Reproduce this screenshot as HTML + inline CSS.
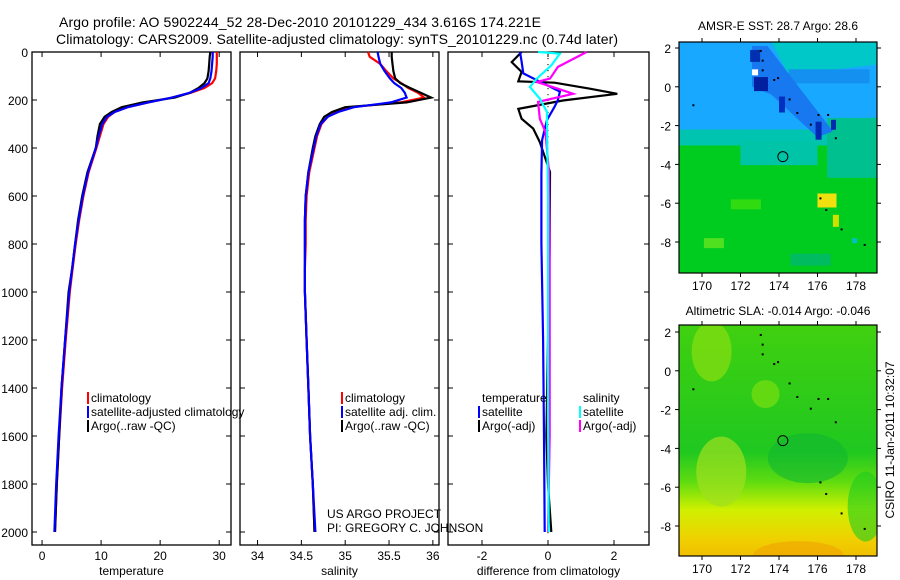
<!DOCTYPE html>
<html><head><meta charset="utf-8"><style>
html,body{margin:0;padding:0;background:#fff;}
svg{display:block;font-family:"Liberation Sans",sans-serif;}
</style></head><body>
<svg id="fig" width="900" height="580" viewBox="0 0 900 580">
<text x="59" y="27" font-size="14" textLength="482">Argo profile: AO 5902244_52 28-Dec-2010 20101229_434 3.616S 174.221E</text>
<text x="56" y="44" font-size="14" textLength="562">Climatology: CARS2009. Satellite-adjusted climatology: synTS_20101229.nc (0.74d later)</text>
<g id="maps"></g>
<g id="panels"></g>
<text x="327" y="518" font-size="12">US ARGO PROJECT</text>
<text x="327" y="532" font-size="12">PI: GREGORY C. JOHNSON</text>
<text transform="translate(894,440) rotate(-90)" font-size="12" text-anchor="middle">CSIRO 11-Jan-2011 10:32:07</text>
<text x="778" y="30" font-size="12" text-anchor="middle">AMSR-E SST: 28.7 Argo: 28.6</text>
<text x="778" y="315" font-size="12" text-anchor="middle">Altimetric SLA: -0.014 Argo: -0.046</text>
</svg>
<script>
// ---- profile data ----
const depths=[0,20,50,80,110,130,150,170,190,210,230,250,270,300,350,400,500,600,700,800,900,1000,1200,1400,1600,1800,2000];
const tempClim=[29.6,29.6,29.6,29.5,29.3,28.8,27.5,25.2,22.0,18.0,14.5,12.3,11.2,10.4,9.8,9.2,7.9,7.0,6.3,5.7,5.2,4.7,4.0,3.4,2.9,2.5,2.2];
const tempSat=[28.9,28.9,28.8,28.7,28.5,28.2,27.0,25.0,22.0,18.0,14.5,12.3,11.0,10.2,9.6,9.1,7.8,6.9,6.2,5.6,5.1,4.6,3.9,3.3,2.8,2.4,2.1];
const tempArgo=[28.5,28.4,28.3,28.2,28.0,27.5,26.5,25.0,22.5,17.0,13.5,11.8,10.6,9.8,9.4,9.1,7.7,6.8,6.1,5.6,5.1,4.5,3.9,3.3,2.9,2.5,2.2];
const salClim=[35.26,35.28,35.40,35.47,35.55,35.64,35.72,35.83,35.90,35.63,35.06,34.90,34.80,34.73,34.68,34.65,34.59,34.56,34.55,34.55,34.54,34.54,34.56,34.58,34.60,34.63,34.65];
const salSat=[35.37,35.38,35.40,35.45,35.51,35.56,35.64,35.68,35.70,35.52,35.10,34.92,34.80,34.72,34.67,34.64,34.58,34.55,34.54,34.54,34.54,34.54,34.56,34.58,34.60,34.63,34.66];
const salArgo=[35.53,35.53,35.54,35.55,35.57,35.63,35.74,35.86,35.98,35.70,35.00,34.85,34.76,34.71,34.66,34.63,34.58,34.55,34.54,34.54,34.54,34.54,34.56,34.58,34.60,34.63,34.65];
const dTempSatDepth=[0,40,89,120,144,165,200,228,283,367,505,800,1200,1600,2000];
const dTempSat=[-0.85,-0.8,-0.75,-0.3,0.06,0.36,0.3,0.2,-0.03,-0.18,-0.2,-0.2,-0.15,-0.12,-0.1];
const dTempArgoDepth=[0,42,83,122,128,153,174,202,237,278,319,375,500,800,1200,1600,1800,2000];
const dTempArgo=[-0.8,-1.1,-0.8,-0.9,0.2,1.27,2.1,0.45,-0.9,-0.8,-0.45,-0.25,0.06,0.05,0.0,-0.05,0.0,0.1];
const dSalSatDepth=[0,7,56,111,146,194,250,300,600,1000,1500,2000];
const dSalSat=[-0.3,0.36,0.1,-0.34,-0.55,-0.25,-0.03,-0.03,0.0,0.0,0.0,0.02];
const dSalArgoDepth=[0,62,111,125,153,174,208,278,333,500,800,1200,1600,2000];
const dSalArgo=[1.17,0.3,0.06,-0.34,0.3,0.76,-0.3,-0.25,-0.08,0.03,0.05,0.05,0.05,0.0];
const depthTicks=[0,200,400,600,800,1000,1200,1400,1600,1800,2000];
const tempTicks=[0,10,20,30];
const salTicks=[34,34.5,35,35.5,36];
const diffTicks=[-2,0,2];

const NS="http://www.w3.org/2000/svg";
function mk(tag,attrs,parent){const e=document.createElementNS(NS,tag);for(const k in attrs)e.setAttribute(k,attrs[k]);parent.appendChild(e);return e;}
const panelsG=document.getElementById('panels');
const yD=d=>52+d*0.24;
const topY=52,botY=545;
function panel(name,x0,x1,xv0,xv1,ticks,label,showY){
  const g=mk('g',{},panelsG);
  
  
  const xs=v=>x0+(v-xv0)/(xv1-xv0)*(x1-x0);
  const fr=mk('rect',{x:x0,y:topY,width:x1-x0,height:botY-topY,fill:'none',stroke:'#000','stroke-width':1.3},g);
  
  
  depthTicks.forEach(d=>{
    mk('line',{x1:x0,x2:x0+5,y1:yD(d),y2:yD(d),stroke:'#000'},g);
    mk('line',{x1:x1,x2:x1-5,y1:yD(d),y2:yD(d),stroke:'#000'},g);
    if(showY){const t=mk('text',{x:x0-4,y:yD(d)+5,'font-size':12,'text-anchor':'end'},g);t.textContent=d;
      
      }
  });
  ticks.forEach(v=>{
    mk('line',{x1:xs(v),x2:xs(v),y1:topY,y2:topY+5,stroke:'#000'},g);
    mk('line',{x1:xs(v),x2:xs(v),y1:botY,y2:botY-5,stroke:'#000'},g);
    const t=mk('text',{x:xs(v),y:560,'font-size':12,'text-anchor':'middle'},g);t.textContent=v;
    
    
  });
  const l=mk('text',{x:(x0+x1)/2,y:575,'font-size':12,'text-anchor':'middle'},g);l.textContent=label;
  
  
  return {g,xs};
}
function line(p,dd,vals,color,name){
  const pts=dd.map((d,i)=>p.xs(vals[i]).toFixed(1)+','+yD(d).toFixed(1)).join(' ');
  const e=mk('polyline',{points:pts,fill:'none',stroke:color,'stroke-width':2.2},p.g);
  
  
}
function legend(p,x,y,color,txt,name){
  mk('rect',{x:x-4,y:y-10,width:2,height:12,fill:color},p.g);
  const t=mk('text',{x:x,y:y,'font-size':12},p.g);t.textContent=txt;
  
  
}
const p1=panel('temperature',32,231,-1.7,32,tempTicks,'temperature',true);
line(p1,depths,tempClim,'#f00','temp-climatology-line');
line(p1,depths,tempArgo,'#000','temp-argo-line');
line(p1,depths,tempSat,'#00f','temp-satellite-line');
legend(p1,91,402,'#f00','climatology','legend-climatology');
legend(p1,91,416,'#00f','satellite-adjusted climatology','legend-satellite-adjusted');
legend(p1,91,430,'#000','Argo(..raw -QC)','legend-argo');
const p2=panel('salinity',240,439,33.8,36.07,salTicks,'salinity',false);
line(p2,depths,salClim,'#f00','sal-climatology-line');
line(p2,depths,salArgo,'#000','sal-argo-line');
line(p2,depths,salSat,'#00f','sal-satellite-line');
legend(p2,345,402,'#f00','climatology','legend-sal-climatology');
legend(p2,345,416,'#00f','satellite adj. clim.','legend-sal-satellite');
legend(p2,345,430,'#000','Argo(..raw -QC)','legend-sal-argo');
const p3=panel('difference',448,649,-3.03,3.06,diffTicks,'difference from climatology',false);
for(let d=0;d<=2000;d+=25){mk('rect',{x:p3.xs(0)-0.5,y:yD(d),width:1,height:1.2,fill:'#000'},p3.g);}
line(p3,dTempArgoDepth,dTempArgo,'#000','diff-temp-argo-line');
line(p3,dTempSatDepth,dTempSat,'#00f','diff-temp-satellite-line');
line(p3,dSalArgoDepth,dSalArgo,'#f0f','diff-sal-argo-line');
line(p3,dSalSatDepth,dSalSat,'#0ff','diff-sal-satellite-line');
const th=mk('text',{x:482,y:402,'font-size':12},p3.g);th.textContent='temperature';


const sh=mk('text',{x:583,y:402,'font-size':12},p3.g);sh.textContent='salinity';


legend(p3,482,416,'#00f','satellite','legend-diff-temp-satellite');
legend(p3,482,430,'#000','Argo(-adj)','legend-diff-temp-argo');
legend(p3,583,416,'#0ff','satellite','legend-diff-sal-satellite');
legend(p3,583,430,'#f0f','Argo(-adj)','legend-diff-sal-argo');

// ---- maps ----
const mapsG=document.getElementById('maps');
const lonTicks=[170,172,174,176,178];
const latTicks=[2,0,-2,-4,-6,-8];
function map(name,y0,lat2y,layers){
  const g=mk('g',{},mapsG);
  
  
  const X=l=>702+(l-170)*19.25, Y=l=>lat2y+(2-l)*19.4;
  const x0=679,x1=877,y1=y0+231;
  const cp=mk('clipPath',{id:name+'-clip'},g);mk('rect',{x:x0,y:y0,width:x1-x0,height:y1-y0},cp);
  const inner=mk('g',{'clip-path':'url(#'+name+'-clip)'},g);
  layers(inner,X,Y,x0,x1,y0,y1);
  [[173,1.9],[173.1,1.4],[173.1,0.9],[173.7,0.4],[173.9,0.5],[174.5,-0.6],[174.9,-1.3],[175.6,-1.9],[176,-1.4],[176.5,-1.4],[176.9,-2.6],[169.5,-0.9],[176.1,-5.7],[176.4,-6.3],[177.2,-7.3],[178.4,-8.1],[179.1,-8.7]].forEach(p=>mk('rect',{x:X(p[0]),y:Y(p[1]),width:2,height:2,fill:'#000'},inner));
  const c=mk('circle',{cx:X(174.2),cy:Y(-3.6),r:5,fill:'none',stroke:'#000'},g);
  
  
  mk('rect',{x:x0,y:y0,width:x1-x0,height:y1-y0,fill:'none',stroke:'#000','stroke-width':1.2},g);
  lonTicks.forEach(l=>{mk('line',{x1:X(l),x2:X(l),y1:y0,y2:y0-4,stroke:'#000'},g);
    mk('line',{x1:X(l),x2:X(l),y1:y1,y2:y1+4,stroke:'#000'},g);
    const t=mk('text',{x:X(l),y:y1+17,'font-size':12,'text-anchor':'middle'},g);t.textContent=l;
    
    });
  latTicks.forEach(l=>{mk('line',{x1:x0,x2:x0-4,y1:Y(l),y2:Y(l),stroke:'#000'},g);
    mk('line',{x1:x1,x2:x1+4,y1:Y(l),y2:Y(l),stroke:'#000'},g);
    const t=mk('text',{x:x0-8,y:Y(l)+5,'font-size':12,'text-anchor':'end'},g);t.textContent=l;
    
    });
}
map('sst-map',42,48,(g,X,Y,x0,x1,y0,y1)=>{
  mk('rect',{x:x0,y:y0,width:x1-x0,height:y1-y0,fill:'#00cc20'},g);
  mk('rect',{x:x0,y:y0,width:x1-x0,height:Y(-2.3)-y0,fill:'#18a8ff'},g);
  mk('rect',{x:x0,y:Y(-2.2),width:x1-x0,height:16,fill:'#00c4b0'},g);
  mk('rect',{x:X(172),y:Y(-2.8),width:X(176)-X(172),height:24,fill:'#00c4a8'},g);
  mk('rect',{x:X(176.5),y:Y(-1.6),width:x1-X(176.5),height:60,fill:'#00c090'},g);
  mk('polygon',{points:[X(173.6),Y(2.3),X(179.5),Y(2.3),X(179.5),Y(1.2),X(174.5),Y(0.6)].join(' '),fill:'#00c8c8'},g);
  mk('rect',{x:X(174.5),y:Y(0.9),width:X(178.7)-X(174.5),height:14,fill:'#1490f0'},g);
  mk('polygon',{points:[X(172.6),Y(2.1),X(173.4),Y(2.1),X(176.8),Y(-2.3),X(176.0),Y(-2.6),X(173.6),Y(-0.4),X(172.6),Y(0)].join(' '),fill:'#1878f0'},g);
  mk('rect',{x:X(172.7),y:Y(0.5),width:14,height:14,fill:'#0020a0'},g);
  mk('rect',{x:X(172.5),y:Y(1.9),width:10,height:12,fill:'#0030b0'},g);
  mk('rect',{x:X(172.6),y:Y(0.9),width:6,height:6,fill:'#fff'},g);
  mk('rect',{x:X(174),y:Y(-0.5),width:6,height:16,fill:'#0030c0'},g);
  mk('rect',{x:X(175.9),y:Y(-1.8),width:6,height:18,fill:'#0028b0'},g);
  mk('rect',{x:X(176.7),y:Y(-1.7),width:5,height:10,fill:'#0028b0'},g);
  mk('rect',{x:X(176),y:Y(-5.5),width:19,height:14,fill:'#f0e010'},g);
  mk('rect',{x:X(176.8),y:Y(-6.6),width:6,height:12,fill:'#d0e000'},g);
  mk('rect',{x:X(170.1),y:Y(-7.8),width:20,height:10,fill:'#50e020'},g);
  mk('rect',{x:X(171.5),y:Y(-5.8),width:30,height:10,fill:'#30dc10'},g);
  mk('rect',{x:X(177.8),y:Y(-7.8),width:5,height:5,fill:'#00c0c0'},g);
  mk('rect',{x:X(174.6),y:Y(-8.6),width:40,height:12,fill:'#00bb60'},g);
});
map('sla-map',325,332,(g,X,Y,x0,x1,y0,y1)=>{
  const gr=mk('linearGradient',{id:'slaG',x1:0,y1:0,x2:0,y2:1},g);
  [[0,'#40d010'],[0.55,'#20c820'],[0.68,'#60dc10'],[0.8,'#d0f000'],[0.93,'#f0d000'],[1,'#f0c000']].forEach(s=>mk('stop',{offset:s[0],'stop-color':s[1]},gr));
  mk('rect',{x:x0,y:y0,width:x1-x0,height:y1-y0,fill:'url(#slaG)'},g);
  mk('ellipse',{cx:X(171),cy:Y(-5.2),rx:25,ry:35,fill:'#a0e020',opacity:0.7},g);
  mk('ellipse',{cx:X(170.5),cy:Y(1),rx:20,ry:30,fill:'#80dc10',opacity:0.8},g);
  mk('ellipse',{cx:X(173.3),cy:Y(-1.2),rx:14,ry:14,fill:'#70dc10',opacity:0.8},g);
  mk('ellipse',{cx:X(175.5),cy:Y(-4.5),rx:40,ry:25,fill:'#10b830',opacity:0.6},g);
  mk('ellipse',{cx:X(175),cy:Y(-9.5),rx:45,ry:14,fill:'#f0a800',opacity:0.7},g);
  mk('ellipse',{cx:X(178.5),cy:Y(-7),rx:18,ry:35,fill:'#20cc20',opacity:0.6},g);
});
</script>
</body></html>
